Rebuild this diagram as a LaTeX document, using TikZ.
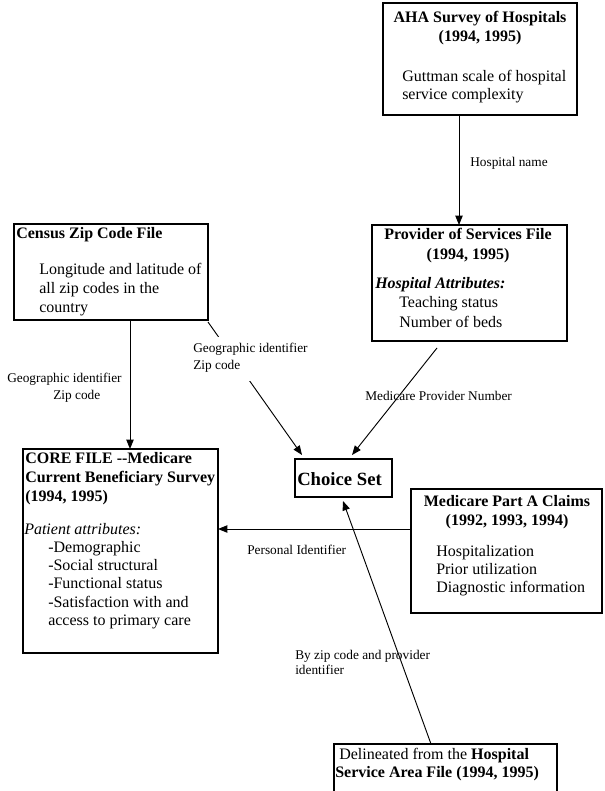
\documentclass[tikz,border=0pt]{standalone}
\usepackage{fontspec}
\setmainfont{Liberation Serif}
\usetikzlibrary{arrows.meta,calc}
\tikzset{
  box/.style={draw, line width=0.9pt, inner sep=0pt, outer sep=0pt, anchor=north west},
  txt/.style={inner sep=0pt, anchor=base west, font=\fontsize{12}{14}\selectfont},
  ctxt/.style={inner sep=0pt, anchor=base, font=\fontsize{12}{14}\selectfont},
  lbl/.style={inner sep=0pt, anchor=base west, font=\fontsize{10}{12}\selectfont},
  arr/.style={-{Triangle[length=7pt,width=5.5pt]}, line width=0.7pt},
  mask/.style={fill=white, inner sep=0pt, anchor=north west}
}
\begin{document}
\begin{tikzpicture}[x=0.75pt,y=-0.75pt]
\clip (0,0) rectangle (604,791);
\fill[white] (0,0) rectangle (604,791);
% boxes
\node[box, minimum width=145.5pt, minimum height=84pt] (aha) at (383,3) {};
\node[box, minimum width=146.25pt, minimum height=87pt] (prov) at (372,225) {};
\node[box, minimum width=145.5pt, minimum height=72pt] (census) at (14,224) {};
\node[box, minimum width=146.25pt, minimum height=153pt] (core) at (23,449) {};
\node[box, minimum width=72.75pt, minimum height=28.5pt] (choice) at (295,459) {};
\node[box, minimum width=143.25pt, minimum height=93pt] (meda) at (411,489) {};
\node[box, minimum width=167.25pt, minimum height=42pt] (hsa) at (334,744) {};
% AHA text
\node[ctxt] (aha1) at (480,23) {\textbf{AHA Survey of Hospitals}};
\node[ctxt] (aha2) at (480,42) {\textbf{(1994, 1995)}};
\node[txt] (aha3) at (402,82) {Guttman scale of hospital};
\node[txt] (aha4) at (402,100) {service complexity};
% Provider text
\node[ctxt] (prov1) at (468,240) {\textbf{Provider of Services File}};
\node[ctxt] (prov2) at (468,260) {\textbf{(1994, 1995)}};
\node[txt] (prov3) at (375,288) {\textbf{\textit{Hospital Attributes:}}};
\node[txt] (prov4) at (399,307) {Teaching status};
\node[txt] (prov5) at (399,327) {Number of beds};
% Census text
\node[txt] (cen1) at (16,239) {\textbf{Census Zip Code File}};
\node[txt] (cen2) at (39,275) {Longitude and latitude of};
\node[txt] (cen3) at (39,293) {all zip codes in the};
\node[txt] (cen4) at (39,312) {country};
% CORE text
\node[txt] (core1) at (25,463) {\textbf{CORE FILE -{}-Medicare}};
\node[txt] (core2) at (25,482) {\textbf{Current Beneficiary Survey}};
\node[txt] (core3) at (25,501) {\textbf{(1994, 1995)}};
\node[txt] (core4) at (24,534) {\textit{Patient attributes:}};
\node[txt] (core5) at (48,552) {-Demographic};
\node[txt] (core6) at (48,570) {-Social structural};
\node[txt] (core7) at (48,588) {-Functional status};
\node[txt] (core8) at (48,607) {-Satisfaction with and};
\node[txt] (core9) at (48,625) {access to primary care};
% Choice set text
\node[inner sep=0pt, anchor=base west, font=\fontsize{14}{16}\selectfont\bfseries] (ch1) at (297,485) {Choice Set};
% Medicare Part A text
\node[ctxt] (med1) at (507,506) {\textbf{Medicare Part A Claims}};
\node[ctxt] (med2) at (507,525) {\textbf{(1992, 1993, 1994)}};
\node[txt] (med3) at (436,556) {Hospitalization};
\node[txt] (med4) at (436,574) {Prior utilization};
\node[txt] (med5) at (436,592) {Diagnostic information};
% HSA text
\node[txt] (hsa1) at (339,759) {Delineated from the \textbf{Hospital}};
\node[txt] (hsa2) at (335,777) {\textbf{Service Area File (1994, 1995)}};
% connectors
\draw[arr] (aha.south -| 459,0) -- (prov.north -| 459,0);
\node[lbl] (l1) at (470,167) {Hospital name};
\draw[arr] (census.south -| 130,0) -- (core.north -| 130,0);
\node[lbl] (l2a) at (7,382) {Geographic identifier};
\node[lbl] (l2b) at (53,399) {Zip code};
\draw[arr] ($(census.south east)+(0,2)$) -- ($(choice.north west)+(7,-4)$);
\node[mask, minimum width=93pt, minimum height=33pt] (l3) at (193,337) {};
\node[lbl] (l3a) at (193,352) {Geographic identifier};
\node[lbl] (l3b) at (193,369) {Zip code};
\draw[arr] ($(prov.south)+(-32.5,7)$) -- ($(choice.north)+(8.5,-4)$);
\node[lbl] (l4) at (365,400) {Medicare Provider Number};
\draw[arr] (meda.west |- 0,529) -- (core.east |- 0,529);
\node[lbl] (l5) at (247,554) {Personal Identifier};
\draw[arr] (hsa.north -| 431,0) -- ($(choice.south)+(-0.5,4)$);
\node[lbl] (l6a) at (295,659) {By zip code and provider};
\node[lbl] (l6b) at (295,674) {identifier};
\end{tikzpicture}
\end{document}
